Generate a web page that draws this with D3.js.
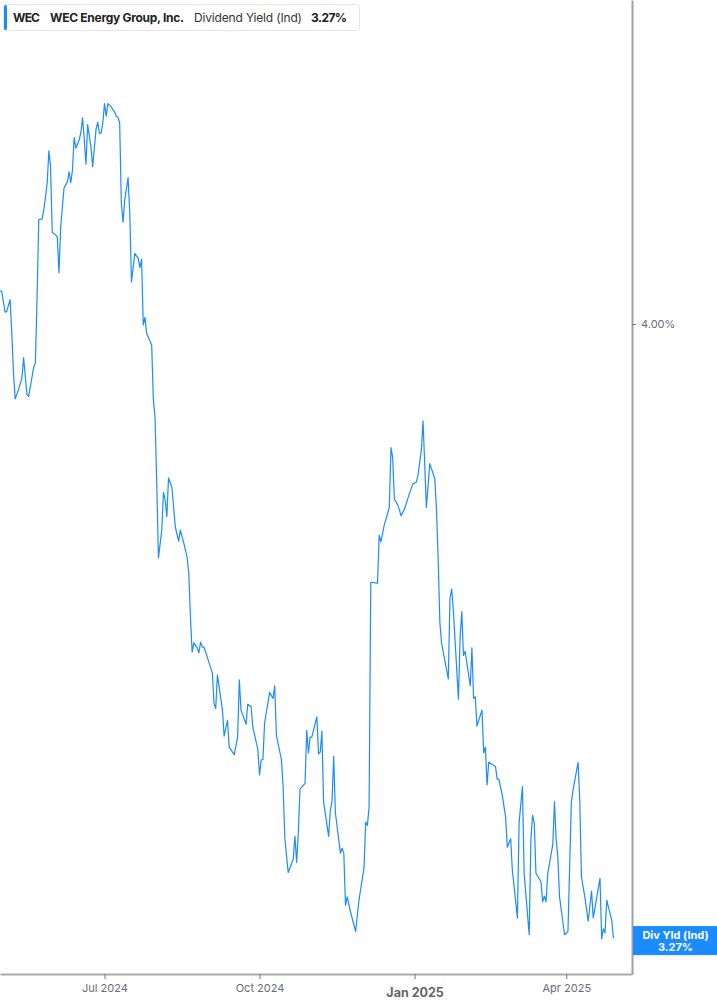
<!DOCTYPE html>
<html>
<head>
<meta charset="utf-8">
<script src="https://cdn.jsdelivr.net/npm/d3@7"></script>
<style>
  body { margin: 0; background: #fff; }
  svg { display: block; font-family: Inter, "Noto Sans", sans-serif; }
</style>
</head>
<body>
<svg id="chart" width="717" height="1005"></svg>
<script>
const dates = [
  '2024-04-30','2024-05-01','2024-05-03','2024-05-04','2024-05-06','2024-05-07','2024-05-08','2024-05-09','2024-05-11','2024-05-13',
  '2024-05-14','2024-05-16','2024-05-17','2024-05-19','2024-05-20','2024-05-21','2024-05-22','2024-05-23','2024-05-25','2024-05-26',
  '2024-05-27','2024-05-28','2024-05-29','2024-05-30','2024-05-31','2024-06-02','2024-06-03','2024-06-04','2024-06-05','2024-06-07',
  '2024-06-09','2024-06-10','2024-06-11','2024-06-12','2024-06-13','2024-06-14','2024-06-16','2024-06-17','2024-06-18','2024-06-19',
  '2024-06-20','2024-06-21','2024-06-23','2024-06-24','2024-06-26','2024-06-27','2024-06-28','2024-06-29','2024-06-30','2024-07-01',
  '2024-07-02','2024-07-03','2024-07-05','2024-07-07','2024-07-08','2024-07-09','2024-07-10','2024-07-11','2024-07-12','2024-07-13',
  '2024-07-15','2024-07-16','2024-07-17','2024-07-19','2024-07-21','2024-07-22','2024-07-23','2024-07-24','2024-07-25','2024-07-26',
  '2024-07-29','2024-07-30','2024-07-31','2024-08-01','2024-08-02','2024-08-04','2024-08-05','2024-08-06','2024-08-07','2024-08-08',
  '2024-08-10','2024-08-12','2024-08-14','2024-08-15','2024-08-17','2024-08-19','2024-08-20','2024-08-21','2024-08-22','2024-08-23',
  '2024-08-25','2024-08-26','2024-08-27','2024-08-28','2024-08-29','2024-08-31','2024-09-03','2024-09-04','2024-09-05','2024-09-06',
  '2024-09-09','2024-09-10','2024-09-12','2024-09-13','2024-09-16','2024-09-18','2024-09-19','2024-09-20','2024-09-23','2024-09-24',
  '2024-09-26','2024-09-27','2024-09-30','2024-10-01','2024-10-02','2024-10-03','2024-10-04','2024-10-07','2024-10-09','2024-10-10',
  '2024-10-11','2024-10-14','2024-10-15','2024-10-16','2024-10-18','2024-10-21','2024-10-22','2024-10-23','2024-10-24','2024-10-25',
  '2024-10-28','2024-10-29','2024-10-30','2024-10-31','2024-11-01','2024-11-04','2024-11-05','2024-11-06','2024-11-07','2024-11-08',
  '2024-11-11','2024-11-12','2024-11-13','2024-11-14','2024-11-15','2024-11-18','2024-11-19','2024-11-20','2024-11-21','2024-11-22',
  '2024-11-24','2024-11-27','2024-11-29','2024-12-02','2024-12-03','2024-12-04','2024-12-05','2024-12-06','2024-12-10','2024-12-11',
  '2024-12-12','2024-12-14','2024-12-17','2024-12-18','2024-12-19','2024-12-20','2024-12-22','2024-12-23','2024-12-24','2024-12-26',
  '2024-12-29','2024-12-31','2025-01-02','2025-01-03','2025-01-05','2025-01-06','2025-01-08','2025-01-10','2025-01-13','2025-01-14',
  '2025-01-15','2025-01-16','2025-01-17','2025-01-21','2025-01-22','2025-01-23','2025-01-24','2025-01-27','2025-01-28','2025-01-29',
  '2025-01-30','2025-01-31','2025-02-03','2025-02-04','2025-02-05','2025-02-06','2025-02-07','2025-02-10','2025-02-11','2025-02-12',
  '2025-02-13','2025-02-14','2025-02-18','2025-02-19','2025-02-20','2025-02-22','2025-02-24','2025-02-25','2025-02-27','2025-02-28',
  '2025-03-03','2025-03-04','2025-03-06','2025-03-07','2025-03-10','2025-03-11','2025-03-12','2025-03-13','2025-03-14','2025-03-17',
  '2025-03-18','2025-03-19','2025-03-20','2025-03-21','2025-03-24','2025-03-25','2025-03-26','2025-03-27','2025-03-28','2025-03-31',
  '2025-04-02','2025-04-04','2025-04-05','2025-04-08','2025-04-09','2025-04-10','2025-04-12','2025-04-14','2025-04-16','2025-04-17',
  '2025-04-21','2025-04-22','2025-04-23','2025-04-24','2025-04-25','2025-04-28','2025-04-29'
];

// dividend yield, %
const yields = [
  4.039,4.039,4.014,4.015,4.029,3.989,3.942,3.911,3.922,3.936,
  3.960,3.916,3.914,3.937,3.949,3.954,4.032,4.124,4.125,4.136,
  4.151,4.168,4.206,4.187,4.109,4.106,4.103,4.061,4.115,4.162,
  4.169,4.181,4.168,4.183,4.222,4.209,4.219,4.228,4.245,4.219,
  4.190,4.237,4.210,4.187,4.232,4.240,4.227,4.227,4.239,4.262,
  4.247,4.262,4.258,4.252,4.247,4.246,4.239,4.144,4.121,4.147,
  4.174,4.132,4.050,4.084,4.078,4.067,4.077,3.999,4.008,3.989,
  3.975,3.910,3.889,3.811,3.722,3.755,3.800,3.791,3.771,3.817,
  3.806,3.759,3.742,3.755,3.740,3.723,3.704,3.652,3.610,3.621,
  3.615,3.609,3.622,3.616,3.616,3.604,3.585,3.549,3.543,3.583,
  3.541,3.510,3.529,3.497,3.488,3.509,3.577,3.541,3.524,3.548,
  3.545,3.521,3.494,3.464,3.482,3.482,3.526,3.562,3.555,3.570,
  3.511,3.482,3.450,3.389,3.348,3.364,3.391,3.360,3.395,3.447,
  3.454,3.517,3.490,3.509,3.509,3.533,3.489,3.491,3.516,3.432,
  3.391,3.422,3.432,3.486,3.419,3.371,3.377,3.371,3.309,3.319,
  3.301,3.278,3.315,3.354,3.408,3.404,3.426,3.693,3.692,3.749,
  3.741,3.761,3.782,3.853,3.841,3.792,3.785,3.779,3.772,3.780,
  3.799,3.810,3.812,3.820,3.850,3.885,3.782,3.834,3.816,3.779,
  3.719,3.645,3.621,3.578,3.674,3.685,3.660,3.554,3.628,3.658,
  3.606,3.611,3.570,3.615,3.555,3.557,3.522,3.541,3.490,3.497,
  3.452,3.479,3.474,3.459,3.459,3.440,3.414,3.378,3.388,3.351,
  3.294,3.407,3.450,3.347,3.274,3.387,3.416,3.407,3.347,3.337,
  3.313,3.320,3.313,3.347,3.381,3.432,3.387,3.366,3.319,3.274,
  3.278,3.431,3.446,3.479,3.434,3.343,3.319,3.290,3.326,3.294,
  3.341,3.269,3.281,3.276,3.315,3.291,3.270
];

const xTickDates = ['2024-07-01', '2024-10-01', '2025-01-01', '2025-04-01'];
const yTicks = [4.0];

const ticker = 'WEC';
const company = 'WEC Energy Group, Inc.';
const metric = 'Dividend Yield (Ind)';
const lastLabel = 'Div Yld (Ind)';

const width = 717;
const height = 1005;
const plotRight = 632;
const plotBottom = 974;
const blue = '#1a8cff';

const parse = d3.timeParse('%Y-%m-%d');
const data = dates.map((d, i) => ({ date: parse(d), value: yields[i] }));
const last = data[data.length - 1];

const xscale = d3.scaleTime()
  .domain([parse('2024-04-30'), parse('2025-05-10')])
  .range([0, plotRight]);

const yscale = d3.scaleLinear()
  .domain([3.2273, 4.3852])
  .range([plotBottom, 0]);

const svg = d3.select('#chart');

// line
const line = d3.line()
  .x((d) => xscale(d.date))
  .y((d) => yscale(d.value));

svg.append('path')
  .datum(data)
  .attr('fill', 'none')
  .attr('stroke', blue)
  .attr('stroke-width', 1.2)
  .attr('stroke-linejoin', 'round')
  .attr('d', line);

// bottom axis
const bottomAxis = d3.axisBottom(xscale)
  .tickValues(xTickDates.map(parse))
  .tickSize(5)
  .tickSizeOuter(0)
  .tickPadding(5)
  .tickFormat(d3.timeFormat('%b %Y'));

const gx = svg.append('g')
  .attr('transform', `translate(0, ${plotBottom})`)
  .call(bottomAxis);
gx.select('.domain').attr('stroke', '#ababab').attr('stroke-width', 2);
gx.selectAll('.tick line').attr('stroke', '#777');
gx.selectAll('.tick text')
  .attr('fill', '#6b6b78')
  .attr('font-size', 11)
  .attr('font-family', 'Inter, sans-serif');
gx.selectAll('.tick text')
  .filter((d) => d.getMonth() === 0)
  .attr('font-weight', 'bold')
  .attr('font-size', 12.5)
  .attr('fill', '#666')
  .attr('dy', '1.05em');

// right axis
const rightAxis = d3.axisRight(yscale)
  .tickValues(yTicks)
  .tickSize(4)
  .tickSizeOuter(0)
  .tickPadding(5)
  .tickFormat((d) => d3.format('.2f')(d) + '%');

const gy = svg.append('g')
  .attr('transform', `translate(${plotRight}, 0)`)
  .call(rightAxis);
gy.select('.domain').attr('stroke', '#a0a0a0').attr('stroke-width', 2);
gy.selectAll('.tick line').attr('stroke', '#777');
gy.selectAll('.tick text')
  .attr('fill', '#6b6b78')
  .attr('font-size', 11)
  .attr('font-family', 'Inter, sans-serif');

// last value label
const ly = yscale(last.value);
const labelG = svg.append('g');
labelG.append('rect')
  .attr('x', plotRight + 1)
  .attr('y', ly - 12)
  .attr('width', width - plotRight - 1)
  .attr('height', 29)
  .attr('fill', blue);
labelG.append('text')
  .attr('x', (plotRight + width) / 2 + 1)
  .attr('y', ly + 1)
  .attr('text-anchor', 'middle')
  .attr('fill', '#fff')
  .attr('font-size', 11)
  .attr('font-weight', 'bold')
  .text(lastLabel);
labelG.append('text')
  .attr('x', (plotRight + width) / 2 + 1)
  .attr('y', ly + 13)
  .attr('text-anchor', 'middle')
  .attr('fill', '#fff')
  .attr('font-size', 11)
  .attr('font-weight', 'bold')
  .text(d3.format('.2f')(last.value) + '%');

// legend
const legend = svg.append('g');
legend.append('rect')
  .attr('x', 3.5)
  .attr('y', 4.5)
  .attr('width', 356)
  .attr('height', 26)
  .attr('rx', 3)
  .attr('fill', '#fff')
  .attr('stroke', '#e6e6e6');
legend.append('rect')
  .attr('x', 4)
  .attr('y', 5)
  .attr('width', 3)
  .attr('height', 25)
  .attr('rx', 1.5)
  .attr('fill', blue);

const legendText = legend.append('text')
  .attr('y', 21.5)
  .attr('font-size', 12)
  .attr('fill', '#222');
legendText.append('tspan').attr('x', 13).attr('font-weight', 'bold').attr('textLength', 27).text(ticker);
legendText.append('tspan').attr('x', 50).attr('font-weight', 'bold').attr('textLength', 134).text(company);
legendText.append('tspan').attr('x', 194).attr('fill', '#333').attr('textLength', 108).text(metric);
legendText.append('tspan').attr('x', 311).attr('font-weight', 'bold').attr('textLength', 36).text(d3.format('.2f')(last.value) + '%');
</script>
</body>
</html>
